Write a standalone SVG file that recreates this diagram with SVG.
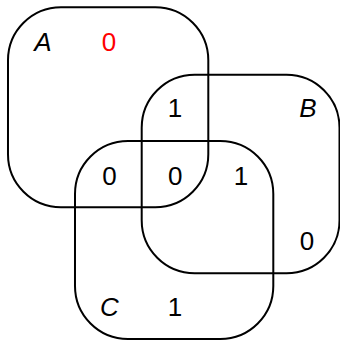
<svg xmlns="http://www.w3.org/2000/svg" width="340" height="340" viewBox="0 0 340 340">
<style>
.set{fill:none;stroke:#000;stroke-width:2}
text{font-family:"Liberation Sans",Arial,Helvetica,sans-serif;font-size:26px;text-anchor:middle;fill:#000}
.lab{font-style:italic}
.red{fill:#ff0000}
</style>
<rect width="340" height="340" fill="#fff"/>
<g id="setA">
<rect class="set" x="8" y="7.3" width="200.3" height="200" rx="53" ry="53"/>
<text class="lab" x="43" y="51">A</text>
</g>
<g id="setB">
<rect class="set" x="141.7" y="74.7" width="197.8" height="198.6" rx="53" ry="53"/>
<text class="lab" x="308" y="117">B</text>
</g>
<g id="setC">
<rect class="set" x="75" y="141" width="198.3" height="198" rx="53" ry="53"/>
<text class="lab" x="109.5" y="316">C</text>
</g>
<g id="values">
<text class="red" x="109" y="51">0</text>
<text x="175" y="117">1</text>
<text x="109.5" y="185">0</text>
<text x="175.3" y="185">0</text>
<text x="241" y="185">1</text>
<text x="307" y="250">0</text>
<text x="175" y="316">1</text>
</g>
</svg>
